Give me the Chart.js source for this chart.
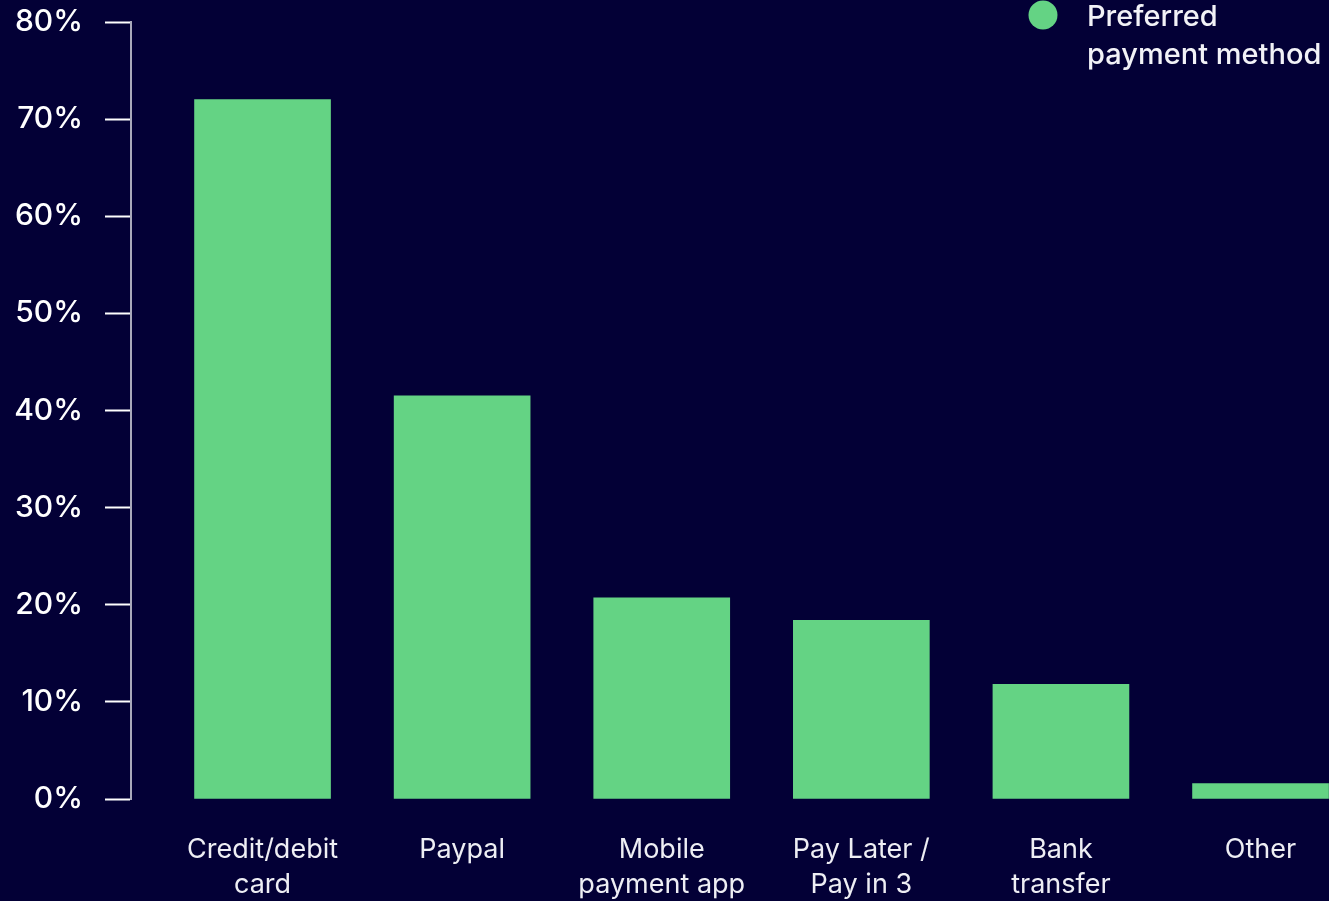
<!DOCTYPE html>
<html>
<head>
<meta charset="utf-8">
<script src="https://cdn.jsdelivr.net/npm/chart.js@4/dist/chart.umd.min.js"></script>
<style>
  html, body { margin: 0; padding: 0; background: #030036; overflow: hidden; }
  #wrap { width: 1329px; height: 901px; }
</style>
</head>
<body>
<div id="wrap"><canvas id="c" width="1329" height="901"></canvas></div>
<script>
// ---- data ----
const categories = [
  ["Credit/debit", "card"],
  ["Paypal"],
  ["Mobile", "payment app"],
  ["Pay Later /", "Pay in 3"],
  ["Bank", "transfer"],
  ["Other"]
];
const values = [72, 41.5, 20.7, 18.4, 11.8, 1.6];
const seriesLabel = ["Preferred", "payment method"];
const yTicks = [0, 10, 20, 30, 40, 50, 60, 70, 80];

const FONT = "Inter, 'Noto Sans', sans-serif";
const GREEN = "#64d384";

const legendPlugin = {
  id: "customLegend",
  afterDraw(chart) {
    const ctx = chart.ctx;
    ctx.save();
    ctx.fillStyle = GREEN;
    ctx.beginPath();
    ctx.arc(1043, 15, 14.5, 0, Math.PI * 2);
    ctx.fill();
    ctx.fillStyle = "#f2f2f7";
    ctx.font = "500 29px " + FONT;
    ctx.textAlign = "left";
    ctx.textBaseline = "alphabetic";
    seriesLabel.forEach((t, i) => ctx.fillText(t, 1087, 26 + i * 38));
    ctx.restore();
  }
};

new Chart(document.getElementById("c"), {
  type: "bar",
  data: {
    datasets: [{
      label: seriesLabel.join(" "),
      data: values.map((v, i) => ({ x: i, y: v })),
      backgroundColor: GREEN,
      borderWidth: 0,
      barThickness: 136
    }]
  },
  options: {
    responsive: false,
    animation: false,
    layout: { padding: { top: 22, right: 0, left: 0, bottom: 0 } },
    plugins: { legend: { display: false }, tooltip: { enabled: false } },
    scales: {
      x: {
        type: "linear",
        offset: false,
        min: -0.659,
        max: 5.343,
        afterBuildTicks(scale) {
          scale.ticks = categories.map((c, i) => ({ value: i }));
        },
        afterFit(scale) { scale.height = 102; scale.paddingLeft = 0; scale.paddingRight = 0; },
        grid: { display: false, drawTicks: false, offset: false },
        border: { display: false },
        ticks: {
          autoSkip: false,
          maxRotation: 0,
          padding: 33,
          color: "#eeeef4",
          font: { family: FONT, size: 27, weight: "400", lineHeight: 1.3 },
          callback: (v) => categories[Math.round(v)] || ""
        }
      },
      y: {
        min: 0,
        max: 80,
        afterBuildTicks(scale) {
          scale.ticks = yTicks.map(v => ({ value: v }));
        },
        afterFit(scale) { scale.width = 131; scale.paddingTop = 0; scale.paddingBottom = 0; },
        grid: {
          drawOnChartArea: false,
          drawTicks: true,
          tickLength: 26,
          tickColor: "#ffffff",
          tickWidth: 2
        },
        border: { display: true, color: "#a9a9bb", width: 2 },
        ticks: {
          padding: 22,
          color: "#ffffff",
          font: { family: FONT, size: 30, weight: "500" },
          callback: (v) => v + "%"
        }
      }
    }
  },
  plugins: [legendPlugin]
});
</script>
</body>
</html>
